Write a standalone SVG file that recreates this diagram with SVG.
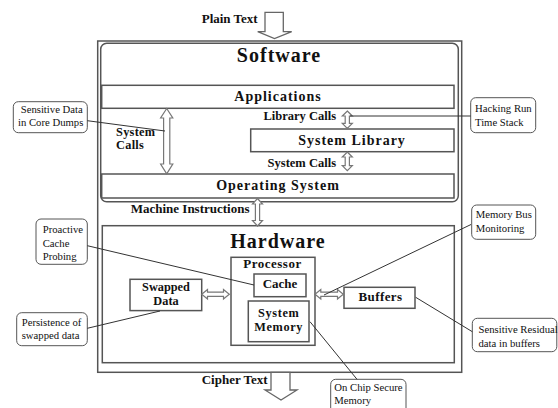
<svg xmlns="http://www.w3.org/2000/svg" width="558" height="408" viewBox="0 0 558 408">
<style>
.box{fill:#fff;stroke:#555;stroke-width:1.5}
.blk{fill:#fff;stroke:#666;stroke-width:1.3}
.arr{fill:#fff;stroke:#777;stroke-width:1.2}
.co{fill:#fff;stroke:#555;stroke-width:1}
.ln{fill:none;stroke:#333;stroke-width:1}
.t{font-family:"Liberation Serif",serif;fill:#111}
.b{font-weight:bold}
.h{font-size:20px;font-weight:bold;letter-spacing:1px}
.m{font-size:14px;font-weight:bold;letter-spacing:1px}
.s{font-size:13px;font-weight:bold}
.s2{font-size:12.3px;font-weight:bold}
.c{font-size:10.7px}
</style>
<rect width="558" height="408" fill="#fff"/>
<g id="outer"><rect class="box" x="97.7" y="41" width="364" height="331.3"/></g>
<g id="software">
<rect class="box" x="100.7" y="43.3" width="357.6" height="158.4" rx="6"/>
<text class="t h" x="279" y="62" text-anchor="middle">Software</text>
</g>
<g id="applications">
<rect class="box" x="101.7" y="85.3" width="352.3" height="23"/>
<text class="t m" x="278" y="100.7" text-anchor="middle">Applications</text>
</g>
<g id="system-library">
<rect class="box" x="250.7" y="129" width="203.3" height="22.7"/>
<text class="t m" x="352" y="144.5" text-anchor="middle">System Library</text>
</g>
<g id="operating-system">
<rect class="box" x="101.7" y="174" width="352.3" height="24"/>
<text class="t m" x="278" y="189.5" text-anchor="middle">Operating System</text>
</g>
<g id="hardware">
<rect class="box" x="102.3" y="225.7" width="352" height="137"/>
<text class="t h" x="278" y="247.7" text-anchor="middle">Hardware</text>
</g>
<g id="processor">
<rect class="box" x="231" y="257.3" width="84" height="88"/>
<text class="t s" x="272.5" y="267.7" text-anchor="middle" letter-spacing="0.5">Processor</text>
</g>
<g id="cache">
<rect class="box" x="254" y="274" width="52" height="22.7"/>
<text class="t s" x="280" y="287.5" text-anchor="middle">Cache</text>
</g>
<g id="system-memory">
<rect class="box" x="248.3" y="301" width="60.7" height="40.7"/>
<text class="t s2" x="278.7" y="317" text-anchor="middle" letter-spacing="0.6">System</text>
<text class="t s2" x="278.7" y="330.5" text-anchor="middle" letter-spacing="0.6">Memory</text>
</g>
<g id="swapped-data">
<rect class="box" x="130" y="279.3" width="71.7" height="31.3"/>
<text class="t b" font-size="12.3" x="166" y="291" text-anchor="middle">Swapped</text>
<text class="t b" font-size="12.3" x="166" y="304.5" text-anchor="middle">Data</text>
</g>
<g id="buffers">
<rect class="box" x="344" y="287.3" width="71" height="21"/>
<text class="t s" x="380.5" y="301" text-anchor="middle" letter-spacing="0.4">Buffers</text>
</g>
<g id="labels">
<text class="t b" font-size="13" x="201.7" y="22.7">Plain Text</text>
<text class="t s2" x="116" y="135.5" letter-spacing="0.3">System</text>
<text class="t s2" x="116" y="148.5" letter-spacing="0.3">Calls</text>
<text class="t b" font-size="12.5" x="336" y="120" text-anchor="end">Library Calls</text>
<text class="t b" font-size="12.5" x="336" y="167.3" text-anchor="end">System Calls</text>
<text class="t b" font-size="13" x="130.7" y="212.7">Machine Instructions</text>
<text class="t b" font-size="13" x="201.7" y="384.3">Cipher Text</text>
</g>
<g id="callout-core-dumps">
<rect class="co" x="13.3" y="101.7" width="74" height="31" rx="5"/>
<text class="t c" x="20.7" y="112.5">Sensitive Data</text>
<text class="t c" x="18" y="125.7">in Core Dumps</text>
</g>
<g id="callout-hacking">
<rect class="co" x="470.7" y="97.7" width="65" height="35" rx="5"/>
<text class="t c" x="475" y="111.7">Hacking Run</text>
<text class="t c" x="475" y="126">Time Stack</text>
</g>
<g id="callout-proactive">
<rect class="co" x="36" y="219" width="51.3" height="45.3" rx="5"/>
<text class="t c" x="42.7" y="233.3">Proactive</text>
<text class="t c" x="42.7" y="246.7">Cache</text>
<text class="t c" x="42.7" y="260">Probing</text>
</g>
<g id="callout-persistence">
<rect class="co" x="16.7" y="312.7" width="70.6" height="33" rx="5"/>
<text class="t c" x="21.7" y="326">Persistence of</text>
<text class="t c" x="21.7" y="339.3">swapped data</text>
</g>
<g id="callout-membus">
<rect class="co" x="471.7" y="205" width="64" height="34.3" rx="5"/>
<text class="t c" x="475.7" y="218.3">Memory Bus</text>
<text class="t c" x="475.7" y="231.7">Monitoring</text>
</g>
<g id="callout-residual">
<rect class="co" x="472.3" y="318.3" width="84.5" height="33.4" rx="5"/>
<text class="t c" x="478.5" y="332.7">Sensitive Residual</text>
<text class="t c" x="478.5" y="346.7">data in buffers</text>
</g>
<g id="callout-onchip">
<rect class="co" x="330.7" y="379.3" width="75.3" height="36" rx="5"/>
<text class="t c" x="334.3" y="391">On Chip Secure</text>
<text class="t c" x="334.3" y="403.7">Memory</text>
</g>
<g id="connectors">
<polygon class="blk" points="265,12.3 283.3,12.3 283.3,31.7 291.7,31.7 274.5,38.5 257.7,31.7 265,31.7"/>
<polygon class="blk" points="271,372.3 290,372.3 290,390 297,390 281,400 265,390 271,390"/>
<polygon class="arr" points="166.7,108.5 172.8,118 169.8,118 169.8,164 172.8,164 166.7,173.8 160.6,164 163.6,164 163.6,118 160.6,118"/>
<polygon class="arr" points="347.3,111 352.3,116 349.4,116 349.4,123.3 352.3,123.3 347.3,128.3 342.3,123.3 345.2,123.3 345.2,116 342.3,116"/>
<polygon class="arr" points="347.3,152 352.3,157 349.4,157 349.4,165.7 352.3,165.7 347.3,170.7 342.3,165.7 345.2,165.7 345.2,157 342.3,157"/>
<polygon class="arr" points="257.5,198.5 262.5,204 259.6,204 259.6,220.5 262.5,220.5 257.5,226 252.5,220.5 255.4,220.5 255.4,204 252.5,204"/>
<polygon class="arr" points="201.7,294.3 207.5,289.5 207.5,292.2 223.5,292.2 223.5,289.5 229.3,294.3 223.5,299 223.5,296.4 207.5,296.4 207.5,299"/>
<polygon class="arr" points="315,294.3 320.8,289.5 320.8,292.2 337.5,292.2 337.5,289.5 343.3,294.3 337.5,299 337.5,296.4 320.8,296.4 320.8,299"/>
<line class="ln" x1="87.3" y1="120.7" x2="165" y2="131"/>
<line class="ln" x1="350" y1="116" x2="470.7" y2="116"/>
<line class="ln" x1="87.3" y1="245.7" x2="254" y2="285"/>
<line class="ln" x1="87.3" y1="328.3" x2="160" y2="311"/>
<line class="ln" x1="471" y1="224.5" x2="324" y2="295"/>
<line class="ln" x1="415.7" y1="297.3" x2="472.3" y2="331.7"/>
<line class="ln" x1="310" y1="321.7" x2="357" y2="379.3"/>
</g>
</svg>
